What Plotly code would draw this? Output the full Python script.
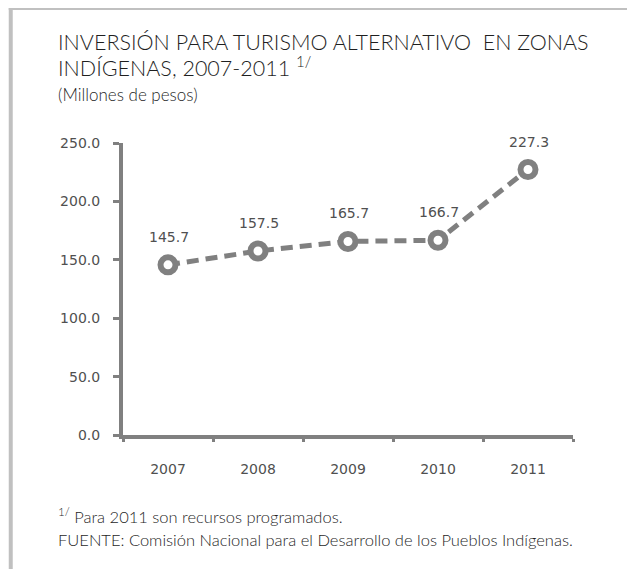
import plotly.graph_objects as go

years = ["2007", "2008", "2009", "2010", "2011"]
values = [145.7, 157.5, 165.7, 166.7, 227.3]
value_labels = ["145.7", "157.5", "165.7", "166.7", "227.3"]
y_ticks = [0, 50, 100, 150, 200, 250]
y_tick_labels = ["0.0", "50.0", "100.0", "150.0", "200.0", "250.0"]

W, H = 635, 569
OX, OY = 6, 8  # page offset compensation
L, R, T, B = 120.5 - OX, 571.5 - OX, 143 - OY, 435 - OY
GRAY = "#808080"
TXT = "#505050"
TFONT = "Lato"
TCOL = "#1f1f1f"

def px(x):
    return (x - OX - L) / (R - L)

def py(y):
    return (B - (y - OY)) / (B - T)

fig = go.Figure()
fig.add_trace(go.Scatter(
    x=years, y=values, mode="lines+markers",
    line=dict(color=GRAY, width=5, dash="12px,7px"),
    marker=dict(symbol="circle", size=15, color="white", line=dict(color=GRAY, width=6)),
    showlegend=False, hoverinfo="skip"))

annotations = []
for i, (v, t) in enumerate(zip(values, value_labels)):
    annotations.append(dict(x=i, y=v, xref="x", yref="y", text=t, showarrow=False,
                            yshift=28, xshift=1, font=dict(family="DejaVu Sans", size=14, color=TXT)))

annotations += [
    dict(x=px(53), y=py(42), xref="paper", yref="paper", xanchor="left", yanchor="middle",
         text="INVERSIÓN PARA TURISMO ALTERNATIVO&nbsp; EN ZONAS", showarrow=False,
         font=dict(family=TFONT, size=21.5, color=TCOL, weight=300)),
    dict(x=px(53), y=py(66.5), xref="paper", yref="paper", xanchor="left", yanchor="middle",
         text="INDÍGENAS, 2007-2011 <sup>1/</sup>", showarrow=False,
         font=dict(family=TFONT, size=21.5, color=TCOL, weight=300)),
    dict(x=px(53), y=py(94), xref="paper", yref="paper", xanchor="left", yanchor="middle",
         text="(Millones de pesos)", showarrow=False,
         font=dict(family=TFONT, size=17, color=TCOL, weight=300)),
    dict(x=px(53), y=py(516), xref="paper", yref="paper", xanchor="left", yanchor="middle",
         text="<sup>1/</sup> Para 2011 son recursos programados.", showarrow=False,
         font=dict(family=TFONT, size=16.5, color=TCOL, weight=300)),
    dict(x=px(53), y=py(540), xref="paper", yref="paper", xanchor="left", yanchor="middle",
         text="FUENTE: Comisión Nacional para el Desarrollo de los Pueblos Indígenas.", showarrow=False,
         font=dict(family=TFONT, size=16.5, color=TCOL, weight=300)),
]

shapes = [
    dict(type="line", xref="paper", yref="paper", x0=px(8), x1=px(8), y0=py(6), y1=py(600),
         line=dict(color="#c0c0c0", width=4)),
    dict(type="line", xref="paper", yref="paper", x0=px(6), x1=px(660), y0=py(8), y1=py(8),
         line=dict(color="#c0c0c0", width=4)),
]

fig.update_layout(
    width=W, height=H,
    margin=dict(l=L, r=W - R, t=T, b=H - B, pad=0),
    paper_bgcolor="white", plot_bgcolor="white",
    annotations=annotations, shapes=shapes,
    xaxis=dict(type="category", categoryorder="array", categoryarray=years,
               range=[-0.5, 4.5], tickson="boundaries", ticks="outside", ticklen=3,
               tickwidth=3, tickcolor=GRAY, showline=True, linecolor=GRAY, linewidth=4,
               showgrid=False, zeroline=False, ticklabelstandoff=18,
               tickfont=dict(family="DejaVu Sans", size=14, color=TXT)),
    yaxis=dict(range=[0, 250], tickvals=y_ticks, ticktext=y_tick_labels, ticks="outside",
               ticklen=6, tickwidth=3, tickcolor=GRAY, showline=True, linecolor=GRAY,
               linewidth=4, showgrid=False, zeroline=False, ticklabelstandoff=10,
               tickfont=dict(family="DejaVu Sans", size=14, color=TXT)),
)

fig.write_html("out.html")
